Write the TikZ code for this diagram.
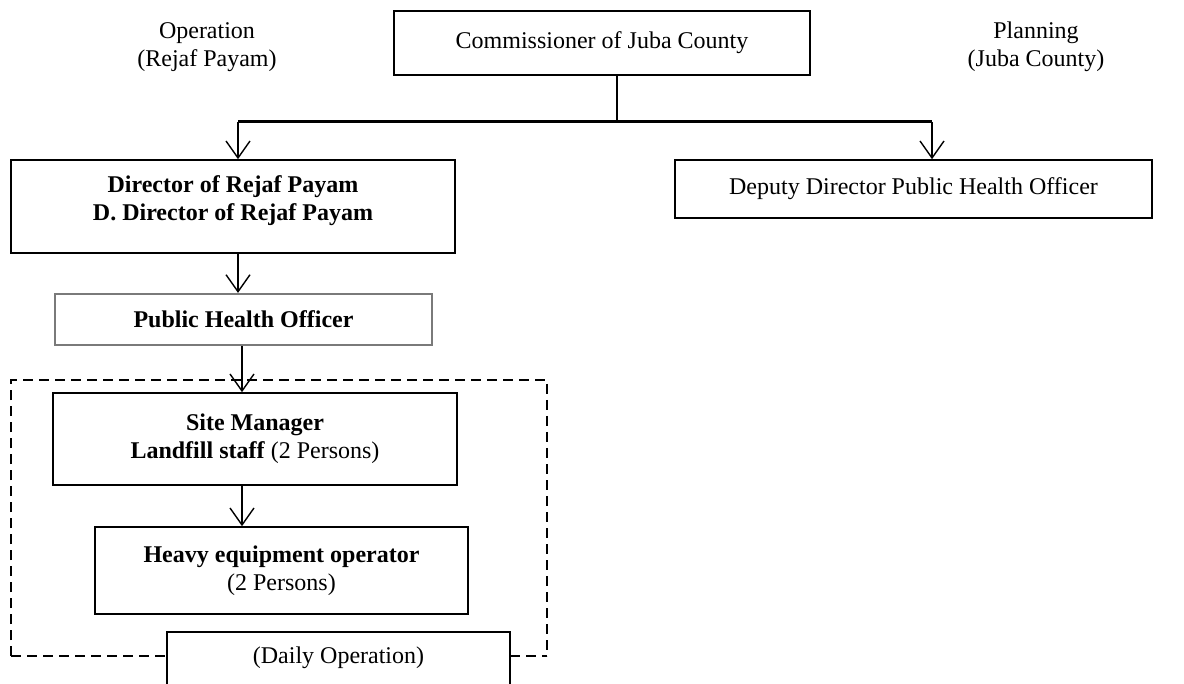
\documentclass[tikz,border=0pt]{standalone}
\usepackage{fontspec}
\setmainfont{Liberation Serif}
\usepackage{tikz}
\usetikzlibrary{arrows.meta,positioning,calc}
\definecolor{boxgray}{HTML}{7A7A7A}

\begin{document}
\begin{tikzpicture}[x=0.5pt,y=-0.5pt,font=\fontsize{12pt}{14pt}\selectfont,
    box/.style={draw,line width=0.8pt,align=center,inner sep=0pt},
    grp/.style={dashed,line width=0.7pt,dash pattern=on 5pt off 3pt},
    arr/.style={-{Straight Barb[length=8.5pt,width=12pt]},line width=0.7pt}]
  \clip (0,0) rectangle (1184,684);
  % top level
  \node[box,minimum width=208pt,minimum height=32pt] (comm) at (602,43) {Commissioner of Juba County};
  \node[align=center] (oplab) at (207,47) {Operation\\(Rejaf Payam)};
  \node[align=center] (planlab) at (1036,47) {Planning\\(Juba County)};
  % second level
  \node[box,minimum width=222pt,minimum height=46.5pt,text depth=8pt,font=\fontsize{12pt}{14pt}\selectfont\bfseries] (dir) at (233,206.5) {Director of Rejaf Payam\\D. Director of Rejaf Payam};
  \node[box,minimum width=238.5pt,minimum height=29pt] (dep) at (913.5,189) {Deputy Director Public Health Officer};
  \node[box,draw=boxgray,line width=1.1pt,minimum width=188.5pt,minimum height=25.5pt,font=\fontsize{12pt}{14pt}\selectfont\bfseries] (pho) at (243.5,319.5) {Public Health Officer};
  % daily operation group
  \draw[grp] (11,656) -- (11,380) -- (547,380) -- (547,656);
  \draw[grp] (11,656) -- (167,656);
  \draw[grp] (510,656) -- (547,656);
  \node[box,minimum width=202pt,minimum height=46pt] (site) at (255,439) {\textbf{Site Manager}\\\textbf{Landfill staff} (2 Persons)};
  \node[box,minimum width=186.5pt,minimum height=43.5pt] (heavy) at (281.5,570.5) {\textbf{Heavy equipment operator}\\(2 Persons)};
  \node[box,fill=white,minimum width=171.5pt,minimum height=53pt,anchor=north] (daily) at (338.5,631) {};
  \node (dailylab) at (338.5,658) {(Daily Operation)};
  % connectors
  \coordinate (bus) at (617,122);
  \coordinate (lbus) at (238,122);
  \coordinate (rbus) at (932,122);
  \coordinate (mid) at (242,0);
  \draw[line width=0.8pt] (comm.south -| bus) -- (bus);
  \draw[line width=1.5pt] (lbus) -- (rbus);
  \draw[arr] (lbus) -- (lbus |- dir.north);
  \draw[arr] (rbus) -- (rbus |- dep.north);
  \draw[arr] (dir.south -| lbus) -- (pho.north -| lbus);
  \draw[arr] (pho.south -| mid) -- (site.north -| mid);
  \draw[arr] (site.south -| mid) -- (heavy.north -| mid);
\end{tikzpicture}
\end{document}
